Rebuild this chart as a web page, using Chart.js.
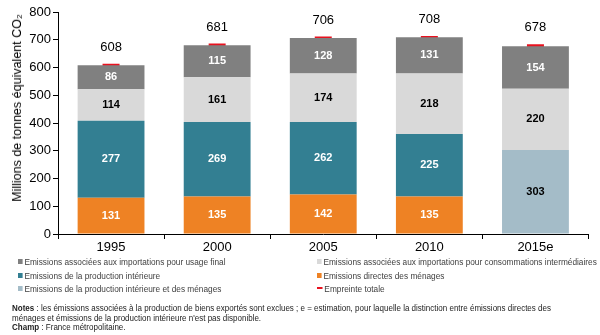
<!DOCTYPE html>
<html lang="fr">
<head>
<meta charset="utf-8">
<script src="https://cdn.jsdelivr.net/npm/chart.js@4/dist/chart.umd.min.js"></script>
<style>
  html, body { margin: 0; padding: 0; background: #fff; }
  body { width: 600px; height: 335px; position: relative; overflow: hidden;
         font-family: "Liberation Sans", Arial, sans-serif; }
  #wrap { position: absolute; left: 0; top: 0; width: 600px; height: 258px; }
  #ytitle { position: absolute; left: 17px; top: 108px; transform: translate(-50%, -50%) rotate(-90deg);
            white-space: nowrap; font-size: 12.5px; color: #000; }
  #legend { position: absolute; left: 0; top: 256px; width: 600px; height: 42px; font-size: 9px; color: #404040; }
  .lg { position: absolute; white-space: nowrap; line-height: 12px; transform-origin: 0 50%; transform: scaleX(0.92); }
  .sw { display: inline-block; width: 5px; height: 5px; margin-right: 2px; vertical-align: 1px; }
  .ln { display: inline-block; width: 6px; height: 2px; margin-right: 2px; vertical-align: 3px; }
  #notes { position: absolute; left: 12px; top: 304px; width: 700px; font-size: 9px; line-height: 9.6px; color: #222;
           transform-origin: 0 0; transform: scaleX(0.89); white-space: nowrap; }
</style>
</head>
<body>
<div id="wrap"><canvas id="chart" width="600" height="258"></canvas></div>
<div id="ytitle">Millions de tonnes équivalent CO₂</div>
<div id="legend"></div>
<div id="notes">
  <b>Notes</b> : les émissions associées à la production de biens exportés sont exclues ; e = estimation, pour laquelle la distinction entre émissions directes des<br>
  ménages et émissions de la production intérieure n'est pas disponible.<br>
  <b>Champ</b> : France métropolitaine.
</div>
<script>
// Years on the horizontal axis
const years = ['1995', '2000', '2005', '2010', '2015e'];

// Emissions by component, in millions of tonnes CO2 equivalent
const menagesDirectes = [131, 135, 142, 135, null];
const productionInterieure = [277, 269, 262, 225, null];
const productionEtMenages = [null, null, null, null, 303];
const importsIntermediaires = [114, 161, 174, 218, 220];
const importsUsageFinal = [86, 115, 128, 131, 154];
const empreinteTotale = [608, 681, 706, 708, 678];

// Y axis ticks
const yMin = 0, yMax = 800, yStep = 100;

const COLORS = {
  orange: '#EE8224',
  teal: '#337F92',
  lightBlue: '#A4BCC8',
  lightGray: '#D9D9D9',
  darkGray: '#808080',
  red: '#E8121F'
};

const FONT = '"Liberation Sans", Arial, sans-serif';

// Labels inside the bar segments and the total above each bar
const valueLabels = {
  id: 'valueLabels',
  afterDatasetsDraw(chart) {
    const ctx = chart.ctx;
    ctx.save();
    ctx.textAlign = 'center';
    ctx.textBaseline = 'middle';
    chart.data.datasets.forEach((ds, i) => {
      const meta = chart.getDatasetMeta(i);
      meta.data.forEach((el, j) => {
        const v = ds.data[j];
        if (v == null) return;
        if (ds.type === 'line') {
          ctx.font = '13px ' + FONT;
          ctx.fillStyle = '#000';
          ctx.fillText(String(v), el.x, el.y - 18);
        } else {
          const p = el.getProps(['x', 'y', 'base'], true);
          ctx.font = 'bold 11px ' + FONT;
          ctx.fillStyle = ds.labelColor;
          ctx.fillText(String(v), p.x, (p.y + p.base) / 2);
        }
      });
    });
    ctx.restore();
  }
};

const barCommon = { type: 'bar', stack: 'bars', barPercentage: 0.63, categoryPercentage: 1, borderWidth: 0 };

const datasets = [
  { ...barCommon, label: 'Emissions directes des ménages', data: menagesDirectes,
    backgroundColor: COLORS.orange, labelColor: '#fff' },
  { ...barCommon, label: 'Emissions de la production intérieure', data: productionInterieure,
    backgroundColor: COLORS.teal, labelColor: '#fff' },
  { ...barCommon, label: 'Emissions de la production intérieure et des ménages', data: productionEtMenages,
    backgroundColor: COLORS.lightBlue, labelColor: '#000' },
  { ...barCommon, label: 'Emissions associées aux importations pour consommations intermédiaires', data: importsIntermediaires,
    backgroundColor: COLORS.lightGray, labelColor: '#000' },
  { ...barCommon, label: 'Emissions associées aux importations pour usage final', data: importsUsageFinal,
    backgroundColor: COLORS.darkGray, labelColor: '#fff' },
  { type: 'line', stack: 'total', label: 'Empreinte totale', data: empreinteTotale,
    showLine: false, pointStyle: 'line', pointRadius: 8.5, pointHoverRadius: 8.5,
    borderColor: COLORS.red, backgroundColor: COLORS.red, pointBorderWidth: 3, borderWidth: 3 }
];

const chart = new Chart(document.getElementById('chart'), {
  data: { labels: years, datasets },
  plugins: [valueLabels],
  options: {
    responsive: false,
    animation: false,
    events: [],
    layout: { padding: { top: 12, right: 8, left: 0, bottom: 0 } },
    plugins: { legend: { display: false }, tooltip: { enabled: false } },
    scales: {
      x: {
        stacked: true,
        offset: true,
        grid: { display: true, offset: true, drawOnChartArea: false, drawTicks: true, tickLength: 5, color: '#000' },
        border: { display: true, color: '#000', width: 1 },
        ticks: { color: '#000', font: { family: FONT, size: 13 }, padding: 1 },
        afterFit(scale) { scale.height = 24; }
      },
      y: {
        stacked: true,
        min: yMin, max: yMax,
        grid: { display: true, drawOnChartArea: false, drawTicks: true, tickLength: 5, color: '#000' },
        border: { display: true, color: '#000', width: 1 },
        ticks: { stepSize: yStep, color: '#000', font: { family: FONT, size: 13 }, padding: 2 },
        afterFit(scale) { scale.width = 58; }
      }
    }
  }
});

// Two-column legend built from the chart's datasets
const legendOrder = [
  [4, 18, 0], [3, 317, 0],
  [1, 18, 1], [0, 317, 1],
  [2, 18, 2], [5, 317, 2]
];
const legendEl = document.getElementById('legend');
legendOrder.forEach(([idx, left, row]) => {
  const ds = chart.data.datasets[idx];
  const item = document.createElement('div');
  item.className = 'lg';
  item.style.left = left + 'px';
  item.style.top = (row * 13.5) + 'px';
  const mark = document.createElement('span');
  mark.className = ds.type === 'line' ? 'ln' : 'sw';
  mark.style.background = ds.type === 'line' ? ds.borderColor : ds.backgroundColor;
  item.appendChild(mark);
  item.appendChild(document.createTextNode(ds.label));
  legendEl.appendChild(item);
});
</script>
</body>
</html>
